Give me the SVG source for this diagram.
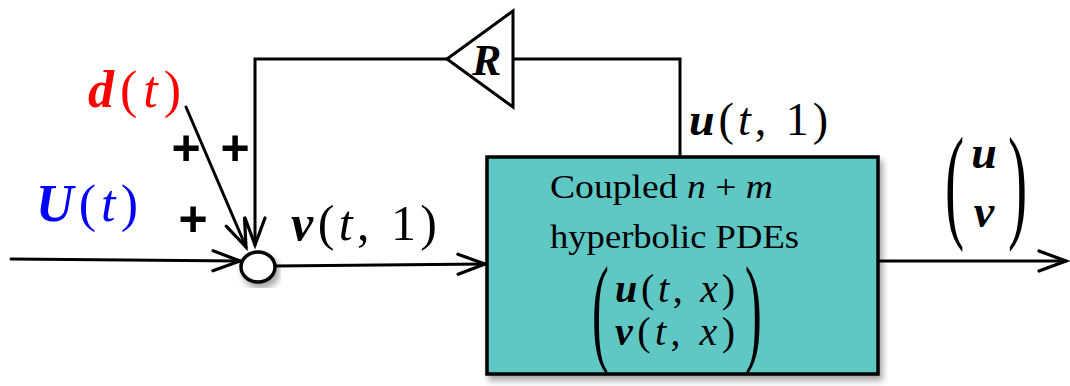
<svg xmlns="http://www.w3.org/2000/svg" width="1070" height="386" viewBox="0 0 1070 386">
<style>
.ln{fill:none;stroke:#000;stroke-width:3;stroke-linecap:round;stroke-linejoin:miter}
.m{font-family:'Liberation Serif','DejaVu Serif',serif;fill:#000}
.bi{font-weight:bold;font-style:italic}
.it{font-style:italic}
.pl{font-family:'Liberation Sans','DejaVu Sans',sans-serif;font-weight:bold;font-size:50px;text-anchor:middle;fill:#000}
</style>
<defs>
<marker id="ah" markerUnits="userSpaceOnUse" markerWidth="40" markerHeight="30" viewBox="-30 -15 34 30" refX="0" refY="0" orient="auto" overflow="visible">
<path d="M -27 -10 L 0 0 L -27 10" fill="none" stroke="#000" stroke-width="3.2" stroke-linecap="round" stroke-linejoin="miter"/>
</marker>
<filter id="sh" x="-10%" y="-10%" width="125%" height="130%">
<feDropShadow dx="3" dy="5" stdDeviation="3" flood-color="#000" flood-opacity="0.35"/>
</filter>
</defs>

<g id="connectors">
<path class="ln" d="M 11 259 L 240 261" marker-end="url(#ah)"/>
<path class="ln" d="M 186 107 L 246 247" marker-end="url(#ah)"/>
<path class="ln" d="M 447 59 L 255 59 L 255 245" marker-end="url(#ah)"/>
<path class="ln" d="M 680 157 L 680 59 L 513 59"/>
<path class="ln" d="M 275 266 L 485 264" marker-end="url(#ah)"/>
<path class="ln" d="M 878 261 L 1066 261" marker-end="url(#ah)"/>
</g>

<g id="sum">
<ellipse cx="258" cy="267" rx="17" ry="15" fill="#fff" stroke="#000" stroke-width="3.5" filter="url(#sh)"/>
</g>

<g id="gainR">
<polygon points="447,59 513,11 513,107" fill="#fff" stroke="#000" stroke-width="3" stroke-linejoin="miter"/>
<text class="m bi" x="472" y="75" font-size="44" font-family="Liberation Serif, serif">R</text>
</g>

<g id="plant">
<rect x="487" y="157" width="391" height="217" fill="#5ec8c4" stroke="#000" stroke-width="3.5" filter="url(#sh)"/>
<text class="m" font-family="Liberation Serif, serif" x="550" y="198" font-size="33" textLength="223" lengthAdjust="spacingAndGlyphs">Coupled <tspan class="it">n</tspan> + <tspan class="it">m</tspan></text>
<text class="m" font-family="Liberation Serif, serif" x="550" y="248" font-size="33" textLength="249" lengthAdjust="spacingAndGlyphs">hyperbolic PDEs</text>
<text class="m" font-family="Liberation Serif, serif" transform="translate(592,350) scale(0.42,1)" font-size="120">(</text>
<text class="m" font-family="Liberation Serif, serif" transform="translate(745,350) scale(0.42,1)" font-size="120">)</text>
<text class="m" font-family="Liberation Serif, serif" x="615" y="302" font-size="40" textLength="120" lengthAdjust="spacing"><tspan class="bi">u</tspan>(<tspan class="it">t</tspan>, <tspan class="it">x</tspan>)</text>
<text class="m" font-family="Liberation Serif, serif" x="615" y="345" font-size="40" textLength="120" lengthAdjust="spacing"><tspan class="bi">v</tspan>(<tspan class="it">t</tspan>, <tspan class="it">x</tspan>)</text>
</g>

<g id="labels">
<text class="m" font-family="Liberation Serif, serif" x="88" y="107" font-size="52" textLength="93" lengthAdjust="spacing" style="fill:#ff0000"><tspan class="bi">d</tspan>(<tspan class="it">t</tspan>)</text>
<text class="m" font-family="Liberation Serif, serif" x="36" y="221" font-size="52" textLength="102" lengthAdjust="spacing" style="fill:#0000ff"><tspan class="bi">U</tspan>(<tspan class="it">t</tspan>)</text>
<text class="m" font-family="Liberation Serif, serif" x="291" y="240" font-size="50" textLength="146" lengthAdjust="spacing"><tspan class="bi">v</tspan>(<tspan class="it">t</tspan>, 1)</text>
<text class="m" font-family="Liberation Serif, serif" x="689" y="135" font-size="46" textLength="139" lengthAdjust="spacing"><tspan class="bi">u</tspan>(<tspan class="it">t</tspan>, 1)</text>
<text class="pl" x="186" y="165">+</text>
<text class="pl" x="235" y="165">+</text>
<text class="pl" x="193" y="236">+</text>
<text class="m" font-family="Liberation Serif, serif" transform="translate(945,225) scale(0.45,1)" font-size="128">(</text>
<text class="m" font-family="Liberation Serif, serif" transform="translate(1008,225) scale(0.45,1)" font-size="128">)</text>
<text class="m bi" font-family="Liberation Serif, serif" x="984" y="168" font-size="46" text-anchor="middle">u</text>
<text class="m bi" font-family="Liberation Serif, serif" x="984" y="227" font-size="46" text-anchor="middle">v</text>
</g>
</svg>
